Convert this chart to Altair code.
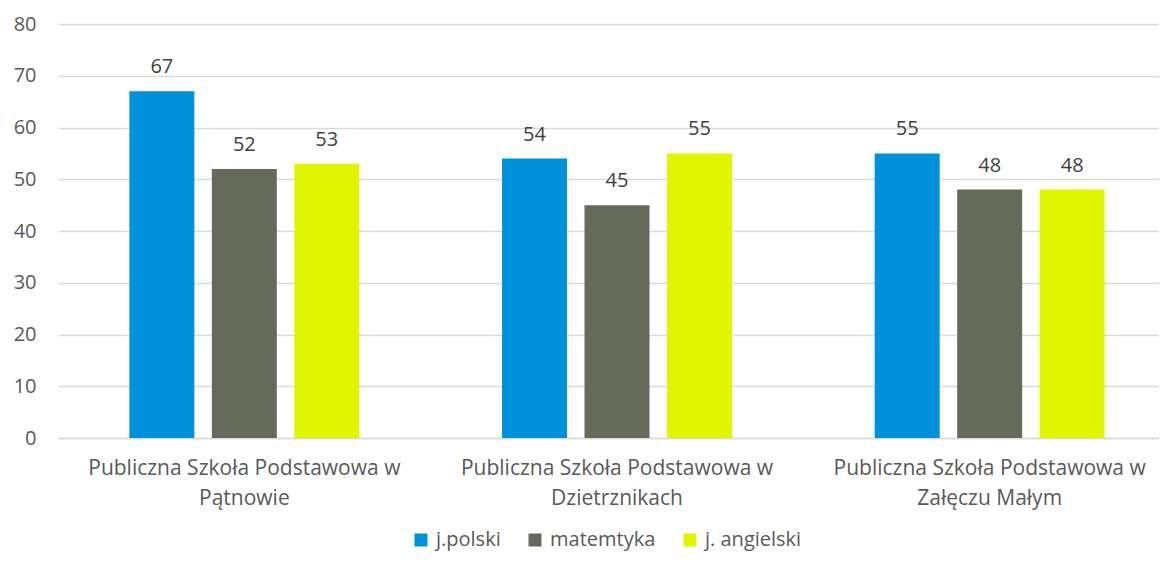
import altair as alt
import pandas as pd

schools = [
    "Publiczna Szkoła Podstawowa w|Pątnowie",
    "Publiczna Szkoła Podstawowa w|Dzietrznikach",
    "Publiczna Szkoła Podstawowa w|Załęczu Małym",
]
subjects = ["j.polski", "matemtyka", "j. angielski"]
colors = ["#0091DC", "#666A5A", "#E0F500"]
values = {
    "j.polski": [67, 54, 55],
    "matemtyka": [52, 45, 48],
    "j. angielski": [53, 55, 48],
}
y_ticks = [0, 10, 20, 30, 40, 50, 60, 70, 80]

rows = []
for si, s in enumerate(subjects):
    for gi, sc in enumerate(schools):
        rows.append({"school": sc, "subject": s, "value": values[s][gi]})
df = pd.DataFrame(rows)

FONT = "Open Sans"
FS = 20
xscale = alt.Scale(range=[0, 1118], paddingInner=0.383, paddingOuter=0.1915)
xoscale = alt.Scale(paddingInner=0.212, paddingOuter=0)
x = alt.X("school:N", sort=schools, title=None, scale=xscale,
          axis=alt.Axis(labelAngle=0, labelExpr="split(datum.label, '|')",
                        labelFontSize=21, labelColor="#595959", labelFont=FONT,
                        labelLineHeight=30, labelPadding=19, labelLimit=0, ticks=False,
                        labelBaseline="top",
                        domainColor="#D9D9D9", domainWidth=1.5, grid=False))
xo = alt.XOffset("subject:N", sort=subjects, scale=xoscale)
y = alt.Y("value:Q", title=None,
          scale=alt.Scale(domain=[0, 80]),
          axis=alt.Axis(values=y_ticks, labelFontSize=FS, labelColor="#595959",
                        labelFont=FONT, ticks=False, domain=False, gridColor="#D9D9D9",
                        gridWidth=1.5, labelPadding=22))
color = alt.Color("subject:N", sort=subjects,
                  scale=alt.Scale(domain=subjects, range=colors),
                  legend=alt.Legend(title=None, orient="none", legendX=353, legendY=506,
                                    direction="horizontal",
                                    symbolType="square", symbolSize=169, symbolStrokeWidth=0,
                                    labelFontSize=FS, labelColor="#595959", labelFont=FONT,
                                    labelOffset=5, columnPadding=24, padding=0))

bars = alt.Chart(df).mark_bar().encode(x=x, xOffset=xo, y=y, color=color)
labels = alt.Chart(df).mark_text(dy=-18, baseline="alphabetic", fontSize=FS, color="#404040",
                                 font=FONT).encode(
    x=alt.X("school:N", sort=schools, scale=xscale),
    xOffset=alt.XOffset("subject:N", sort=subjects, scale=xoscale),
    y=alt.Y("value:Q"), text="value:Q")

chart = (bars + labels).properties(
    width=1101, height=414,
    autosize=alt.AutoSizeParams(type="none"),
    padding={"left": 50, "top": 16, "right": 0, "bottom": 117},
).configure_view(stroke=None)
chart.save("out.html", embed_options={"renderer": "svg", "actions": False})
